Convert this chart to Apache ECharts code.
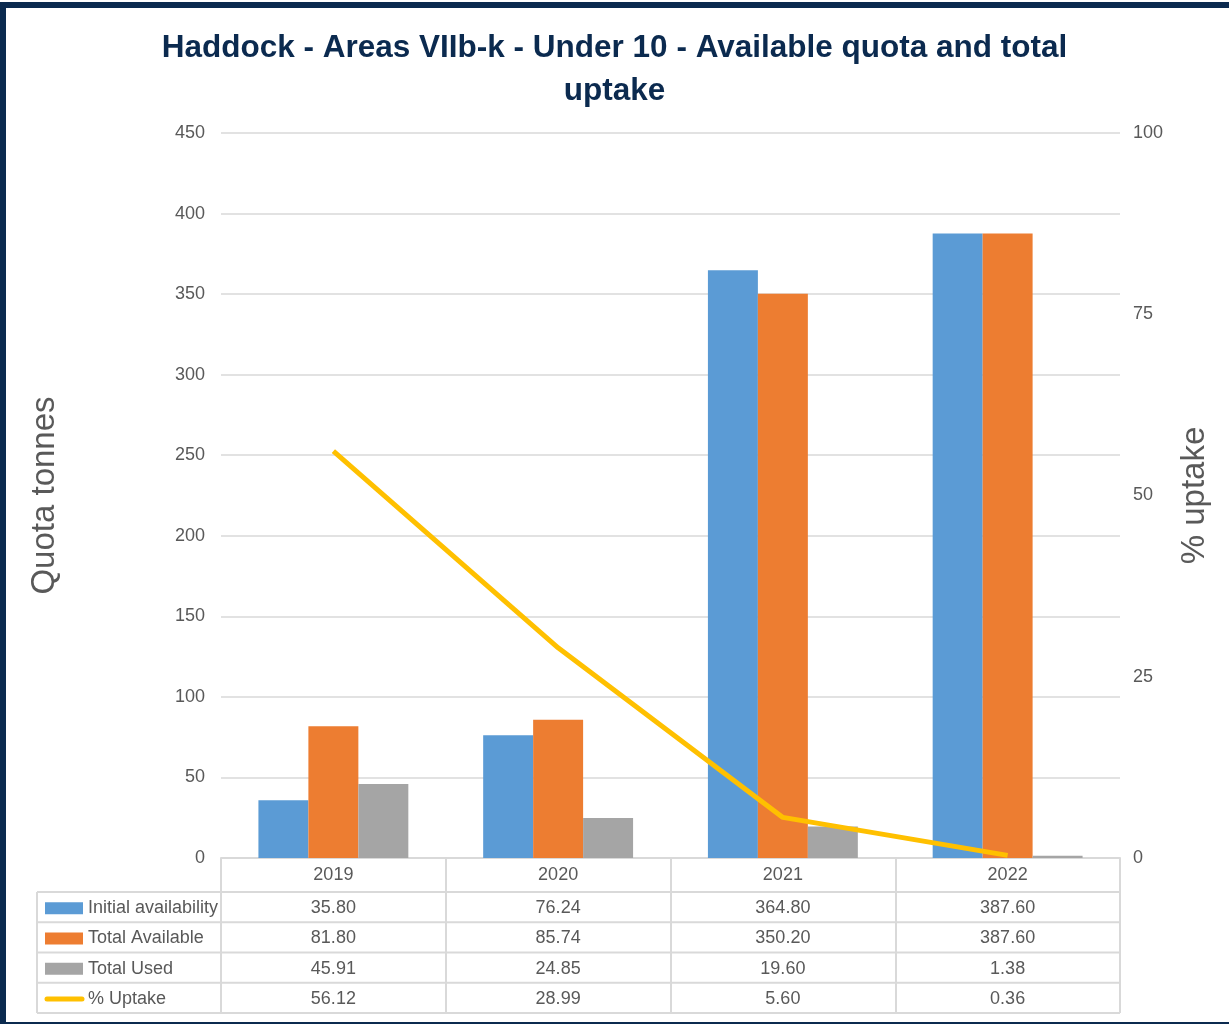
<!DOCTYPE html>
<html>
<head>
<meta charset="utf-8">
<script src="https://cdn.jsdelivr.net/npm/echarts@6/dist/echarts.min.js"></script>
<style>
  html, body { margin: 0; padding: 0; background: #fff; }
  #main { width: 1229px; height: 1024px; }
</style>
</head>
<body>
<div id="main"></div>
<script>
// data
const years = ['2019', '2020', '2021', '2022'];
const initialAvailability = [35.80, 76.24, 364.80, 387.60];
const totalAvailable = [81.80, 85.74, 350.20, 387.60];
const totalUsed = [45.91, 24.85, 19.60, 1.38];
const pctUptake = [56.12, 28.99, 5.60, 0.36];

const seriesNames = ['Initial availability', 'Total Available', 'Total Used', '% Uptake'];
const seriesColors = ['#5B9BD5', '#ED7D31', '#A5A5A5', '#FFC000'];

const FONT = '"Liberation Sans", Arial, sans-serif';
const TXT = '#595959';
const GRID_LINE = '#D9D9D9';
const FRAME = '#0B2A4F';

const chart = echarts.init(document.getElementById('main'));

const barSeries = (i, data) => ({
  name: seriesNames[i], type: 'bar', data,
  itemStyle: { color: seriesColors[i] },
  barGap: '0%', barCategoryGap: '33.3%'
});

chart.setOption({
  animation: false,
  title: {
    text: 'Haddock - Areas VIIb-k - Under 10 - Available quota and total\nuptake',
    left: 'center', top: 22,
    textStyle: {
      fontFamily: '"Liberation Sans Narrow", "Arial Narrow", ' + FONT,
      fontWeight: 'bold', fontSize: 31.5, lineHeight: 43, color: FRAME
    }
  },
  grid: { left: 221, right: 109, top: 133, bottom: 166 },
  xAxis: {
    type: 'category', data: years,
    axisLine: { lineStyle: { color: GRID_LINE, width: 2 } },
    // the tick marks double as the column dividers of the data table
    axisTick: { show: true, length: 155, lineStyle: { color: GRID_LINE, width: 2 } },
    axisLabel: { color: TXT, fontFamily: FONT, fontSize: 18, margin: 8 }
  },
  yAxis: [
    {
      type: 'value', min: 0, max: 450, interval: 50,
      name: 'Quota tonnes', nameLocation: 'middle', nameGap: 160,
      nameTextStyle: { color: TXT, fontFamily: FONT, fontSize: 33 },
      axisLabel: { color: TXT, fontFamily: FONT, fontSize: 18, margin: 16 },
      axisLine: { show: false }, axisTick: { show: false },
      splitLine: { lineStyle: { color: GRID_LINE, width: 1.5 } }
    },
    {
      type: 'value', min: 0, max: 100, interval: 25,
      name: '% uptake', nameLocation: 'middle', nameGap: 58,
      nameTextStyle: { color: TXT, fontFamily: FONT, fontSize: 33 },
      axisLabel: { color: TXT, fontFamily: FONT, fontSize: 18, margin: 13 },
      axisLine: { show: false }, axisTick: { show: false },
      splitLine: { show: false }
    }
  ],
  series: [
    barSeries(0, initialAvailability),
    barSeries(1, totalAvailable),
    barSeries(2, totalUsed),
    {
      name: seriesNames[3], type: 'line', yAxisIndex: 1, data: pctUptake,
      showSymbol: false, z: 5,
      lineStyle: { color: seriesColors[3], width: 5 }
    }
  ]
});

// data table under the plot
const tableRows = [initialAvailability, totalAvailable, totalUsed, pctUptake];
const tableLeft = 37, tableRight = 1120, rowTop = 892, rowH = 30.25;
const graphics = [];

// navy frame: top, left and bottom edges only
[[0, 2, 1229, 6], [0, 2, 6, 1022], [0, 1022, 1229, 2]].forEach(([x, y, w, h]) => {
  graphics.push({ type: 'rect', silent: true, z: 100,
    shape: { x, y, width: w, height: h }, style: { fill: FRAME } });
});

for (let r = 0; r <= tableRows.length; r++) {
  const y = rowTop + r * rowH;
  graphics.push({ type: 'line', silent: true,
    shape: { x1: tableLeft, y1: y, x2: tableRight, y2: y },
    style: { stroke: GRID_LINE, lineWidth: 2 } });
}
graphics.push({ type: 'line', silent: true,
  shape: { x1: tableLeft, y1: rowTop, x2: tableLeft, y2: rowTop + tableRows.length * rowH },
  style: { stroke: GRID_LINE, lineWidth: 2 } });

tableRows.forEach((vals, r) => {
  const cy = rowTop + r * rowH + rowH / 2 + 1;
  if (r < 3) {
    graphics.push({ type: 'rect', silent: true,
      shape: { x: 45, y: cy - 6, width: 38, height: 12 },
      style: { fill: seriesColors[r] } });
  } else {
    graphics.push({ type: 'line', silent: true,
      shape: { x1: 47, y1: cy, x2: 82, y2: cy },
      style: { stroke: seriesColors[r], lineWidth: 5, lineCap: 'round' } });
  }
  graphics.push({ type: 'text', silent: true, x: 88, y: cy,
    style: { text: seriesNames[r], fill: TXT, font: '18px ' + FONT, verticalAlign: 'middle' } });
  vals.forEach((v, c) => {
    const px = chart.convertToPixel({ xAxisIndex: 0 }, years[c]);
    graphics.push({ type: 'text', silent: true, x: px, y: cy,
      style: { text: v.toFixed(2), fill: TXT, font: '18px ' + FONT,
        align: 'center', verticalAlign: 'middle' } });
  });
});

chart.setOption({ graphic: graphics });
</script>
</body>
</html>
